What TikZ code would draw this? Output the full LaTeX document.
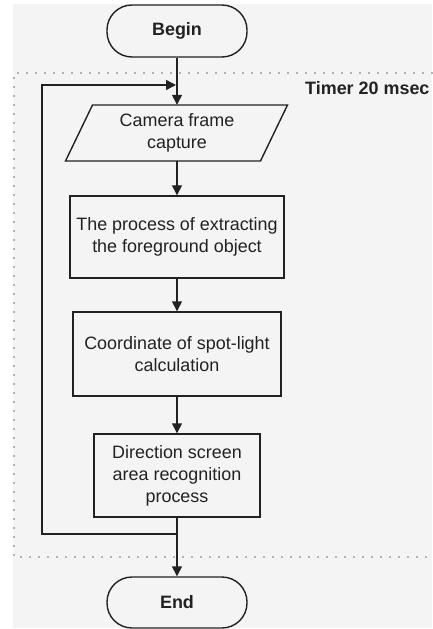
\documentclass[tikz,border=0pt]{standalone}
\usepackage{fontspec}
\setmainfont{Liberation Sans}
\usetikzlibrary{arrows.meta}
\definecolor{bgc}{HTML}{F4F4F4}
\definecolor{ink}{HTML}{222222}
\definecolor{dotc}{HTML}{6E6E6E}
\begin{document}
\begin{tikzpicture}[x=1bp,y=-1bp,
  line/.style={draw=ink, line width=1.4bp},
  arrow/.style={line, -{Triangle[length=10bp,width=10bp]}},
  txt/.style={font=\fontsize{18}{22}\selectfont, text=ink, align=center},
  proc/.style={line, txt, rectangle, inner sep=0pt},
  term/.style={line, rectangle, rounded corners=25bp, inner sep=0pt,
    minimum width=140bp, font=\bfseries\fontsize{18}{22}\selectfont, text=ink},
  dotline/.style={draw=dotc, line width=1.8bp, line cap=round,
    dash pattern=on 0bp off 9bp}]
\useasboundingbox (0,0) rectangle (432,629);
\fill[white] (0,0) rectangle (432,629);
\fill[bgc] (13,4) rectangle (432,628);
% timer region
\draw[dotline] (432,73) -- (14,73) -- (14,557) -- (432,557);
\node[anchor=west, font=\bfseries\fontsize{18}{22}\selectfont, text=ink, inner sep=0pt] (timer) at (305,88) {Timer 20 msec};
% nodes
\node[term, minimum height=52bp] (begin) at (177,31) {Begin};
\node[txt, inner sep=0pt, minimum width=195bp, minimum height=56bp] (cam) at (177,133) {Camera frame\\capture};
\draw[line] (92.5,105) -- (287.5,105) -- (260.5,161) -- (65.5,161) -- cycle;
\node[proc, minimum width=214bp, minimum height=82bp] (p2) at (177,237) {The process of extracting\\the foreground object};
\node[proc, minimum width=208bp, minimum height=84bp] (p3) at (177,354) {Coordinate of spot-light\\calculation};
\node[proc, minimum width=166bp, minimum height=83bp] (p4) at (177,475.5) {Direction screen\\area recognition\\process};
\node[term, minimum height=51bp] (endn) at (177,602.5) {End};
% loop coordinates
\coordinate (lb) at (177,534);
\coordinate (ll) at (42,534);
\coordinate (lu) at (42,85);
\coordinate (lt) at (176,85);
% connectors
\draw[arrow] (begin.south) -- (cam.north);
\draw[arrow] (cam.south) -- (p2.north);
\draw[arrow] (p2.south) -- (p3.north);
\draw[arrow] (p3.south) -- (p4.north);
\draw[line] (p4.south) -- (lb);
\draw[arrow] (lb) -- (endn.north);
\draw[arrow] (lb) -- (ll) -- (lu) -- (lt);
\end{tikzpicture}
\end{document}
